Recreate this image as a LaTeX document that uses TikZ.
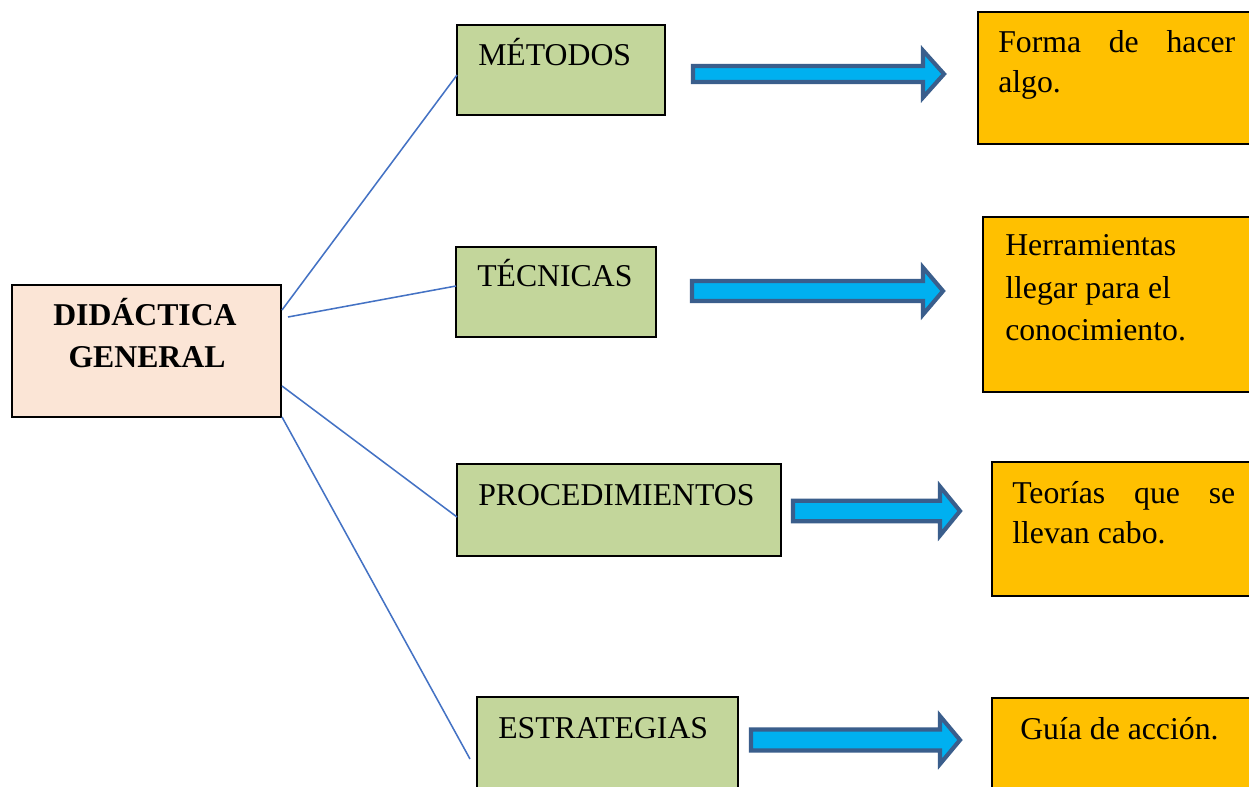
\documentclass[tikz,border=0pt]{standalone}
\usepackage{fontspec}
\setmainfont{Liberation Serif}
\usetikzlibrary{fit,calc}
\definecolor{peach}{HTML}{FBE5D6}
\definecolor{olivelt}{HTML}{C3D69B}
\definecolor{gold}{HTML}{FFC000}
\definecolor{linkblue}{HTML}{4472C4}
\definecolor{arrowfill}{HTML}{00B0F0}
\definecolor{arrowedge}{HTML}{3A5E8C}
\tikzset{
  box/.style={draw=black, line width=1.2pt, inner sep=0pt, outer sep=0pt},
  root/.style={box, fill=peach},
  kind/.style={box, fill=olivelt},
  note/.style={box, fill=gold},
  txt/.style={anchor=base west, inner sep=0pt, font=\fontsize{23.8}{28}\selectfont},
  roottxt/.style={anchor=base, inner sep=0pt, font=\fontsize{23.8}{28}\selectfont\bfseries},
  conn/.style={draw=linkblue, line width=1.15pt},
  fatarrow/.style={draw=arrowedge, fill=arrowfill, line width=3.1pt, line join=miter}
}
% #1 x start, #2 x head back, #3 x tip, #4 y centre, #5 shaft half, #6 head half (outer dims, px)
\newcommand\bluearrow[6]{%
  \path[fatarrow] (#1+2,#4-#5+2) -- (#2+2,#4-#5+2) -- (#2+2,#4-#6+2)
    -- (#3-3,#4) -- (#2+2,#4+#6-2) -- (#2+2,#4+#5-2) -- (#1+2,#4+#5-2) -- cycle;}
\begin{document}
\begin{tikzpicture}[x=0.75pt,y=-0.75pt]
\useasboundingbox (0,0) rectangle (1249,786);
\clip (0,0) rectangle (1249,786);
\fill[white] (0,0) rectangle (1249,786);

% central box
\node[root, fit={(12,285) (281,417)}] (did) {};
\node[roottxt] (didA) at (145,325) {DIDÁCTICA};
\node[roottxt] (didB) at (147,367) {GENERAL};

% category boxes
\node[kind, fit={(457,25) (665,115)}] (met) {};
\node[txt] (metT) at (478,65) {MÉTODOS};
\node[kind, fit={(456,247) (656,337)}] (tec) {};
\node[txt] (tecT) at (477,286) {TÉCNICAS};
\node[kind, fit={(457,464) (781,556)}] (pro) {};
\node[txt] (proT) at (478,505) {PROCEDIMIENTOS};
\node[kind, fit={(477,697) (738,800)}] (est) {};
\node[txt] (estT) at (498,738) {ESTRATEGIAS};

% note boxes
\node[note, fit={(978,12) (1262,144)}] (n1) {};
\node[txt] (n1a) at (998,52) {\makebox[177.75pt][s]{Forma de hacer}};
\node[txt] (n1b) at (998,92) {algo.};
\node[note, fit={(983,217) (1262,392)}] (n2) {};
\node[txt] (n2a) at (1005,255) {Herramientas};
\node[txt] (n2b) at (1005,298) {llegar para el};
\node[txt] (n2c) at (1005,340) {conocimiento.};
\node[note, fit={(992,462) (1262,596)}] (n3) {};
\node[txt] (n3a) at (1012,503) {\makebox[167.25pt][s]{Teorías que se}};
\node[txt] (n3b) at (1012,543) {llevan cabo.};
\node[note, fit={(992,698) (1262,800)}] (n4) {};
\node[txt] (n4a) at (1020,739) {Guía de acción.};

% connectors
\draw[conn] ($(did.north east)+(1,25)$) -- ($(met.north west)+(0,50)$);
\draw[conn] ($(did.north east)+(7,32)$) -- ($(tec.north west)+(0,39)$);
\draw[conn] ($(did.north east)+(1,101)$) -- ($(pro.north west)+(0,53)$);
\draw[conn] ($(did.south east)+(1,0)$) -- ($(est.north west)+(-7,62)$);

% block arrows
\bluearrow{691}{921}{947}{74}{10}{25.5}
\bluearrow{690}{921}{946}{291}{12}{25.5}
\bluearrow{791}{938}{963}{511}{12.2}{26.5}
\bluearrow{749}{938}{963}{740}{12.5}{26}
\end{tikzpicture}
\end{document}
